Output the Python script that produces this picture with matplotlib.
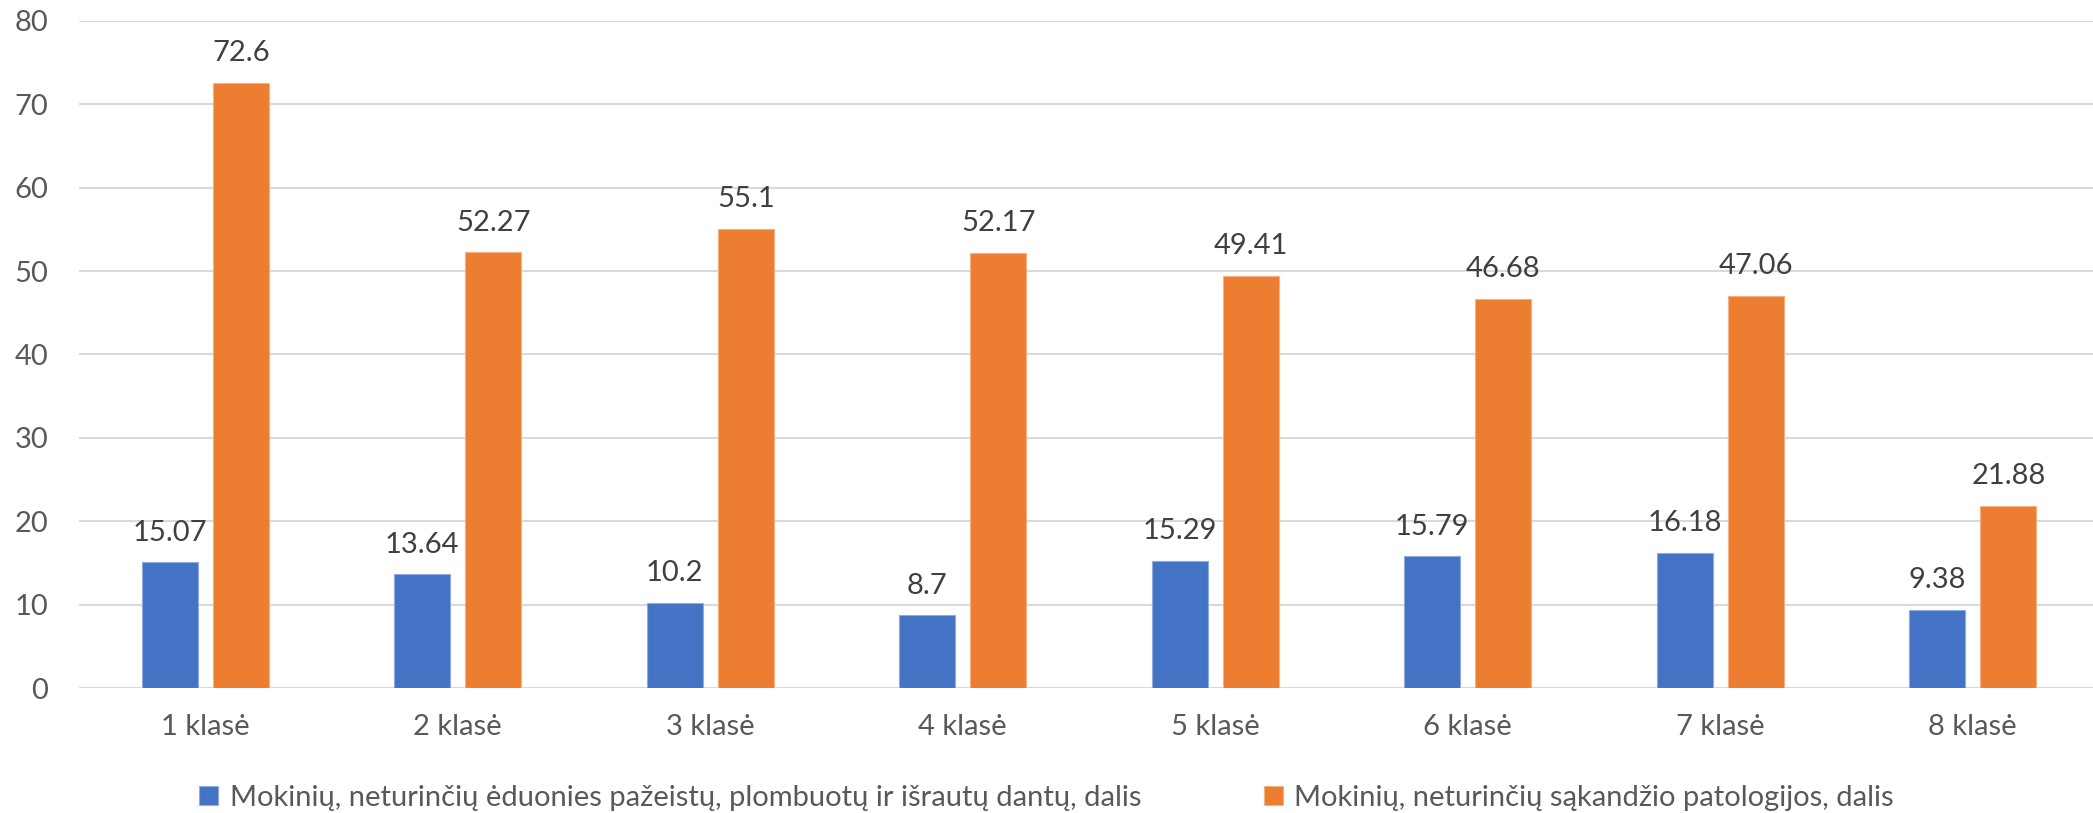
import matplotlib.pyplot as plt
import numpy as np

plt.rcParams['font.family'] = ['Lato', 'DejaVu Sans']

categories = ['1 klasė', '2 klasė', '3 klasė', '4 klasė',
              '5 klasė', '6 klasė', '7 klasė', '8 klasė']
caries_free = [15.07, 13.64, 10.2, 8.7, 15.29, 15.79, 16.18, 9.38]
bite_ok = [72.6, 52.27, 55.1, 52.17, 49.41, 46.68, 47.06, 21.88]
labels = ['Mokinių, neturinčių ėduonies pažeistų, plombuotų ir išrautų dantų, dalis',
          'Mokinių, neturinčių sąkandžio patologijos, dalis']

BLUE = '#4472C4'
ORANGE = '#ED7D31'

fig = plt.figure(figsize=(20.93, 8.13), dpi=100)
ax = fig.add_axes([79 / 2093, 1 - 688 / 813, 2020 / 2093, 667 / 813])

x = np.arange(len(categories))
width = 0.222
offset = 0.141

b1 = ax.bar(x - offset, caries_free, width, color=BLUE, label=labels[0],
            edgecolor='#8FAADC', linewidth=0.8, zorder=3)
b2 = ax.bar(x + offset, bite_ok, width, color=ORANGE, label=labels[1],
            edgecolor='#F4B183', linewidth=0.8, zorder=3)

for bars in (b1, b2):
    ax.bar_label(bars, labels=[f'{v:g}' for v in bars.datavalues],
                 padding=12, fontsize=21, color='#404040')

ax.set_xlim(-0.5, len(categories) - 0.5)
ax.set_ylim(0, 80)
ax.set_yticks(range(0, 81, 10))
ax.set_xticks(x)
ax.set_xticklabels(categories)
ax.tick_params(axis='both', length=0, labelsize=21, colors='#595959')
ax.tick_params(axis='x', pad=19)
ax.tick_params(axis='y', pad=22)
ax.grid(axis='y', color='#D9D9D9', linewidth=1.5, zorder=0)
for s in ax.spines.values():
    s.set_visible(False)

ax.legend(loc='center', bbox_to_anchor=(0.5, (813 - 798) / 813),
          bbox_transform=fig.transFigure, ncol=2, frameon=False,
          fontsize=21, labelcolor='#595959', handlelength=0.65,
          handleheight=0.65, handletextpad=0.4, columnspacing=4.2)

fig.savefig('out.png', dpi=100)
